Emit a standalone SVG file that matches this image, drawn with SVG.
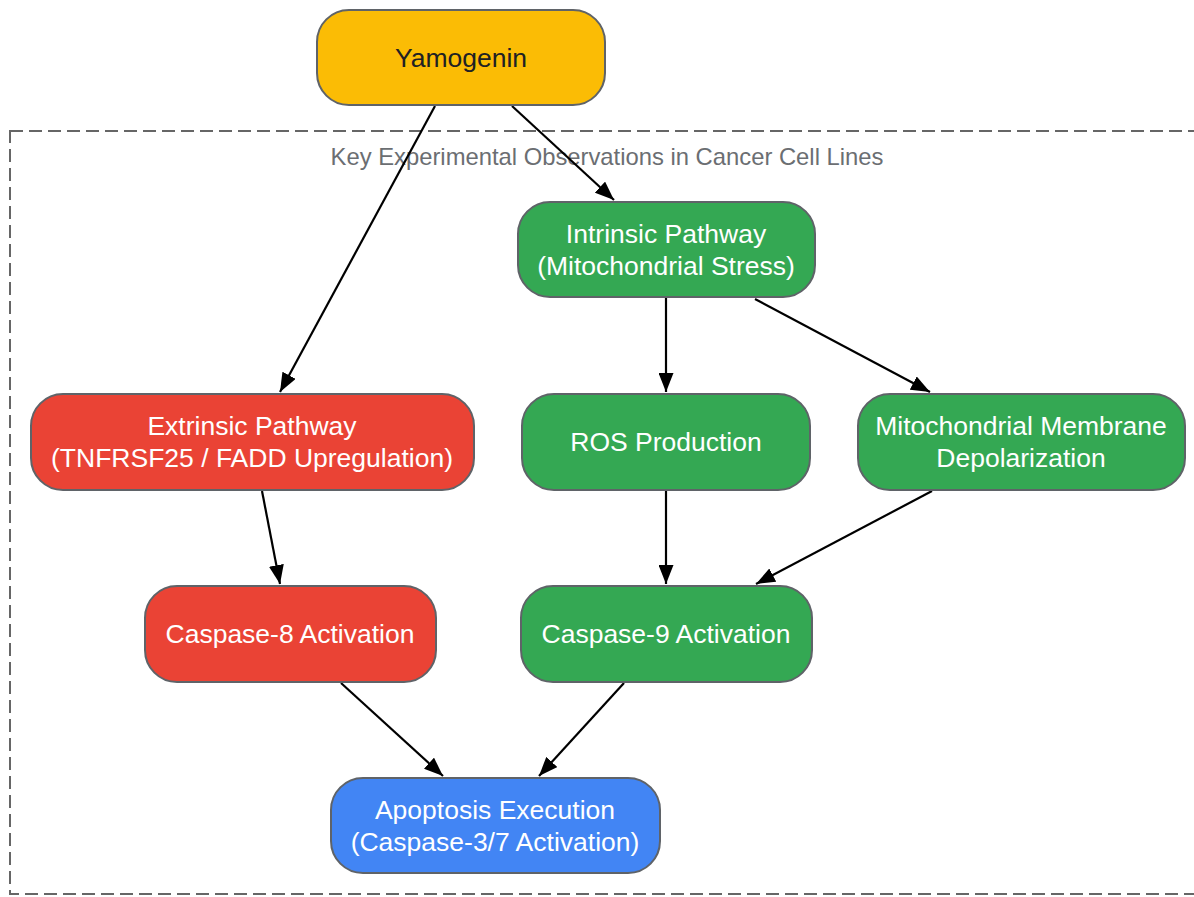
<svg xmlns="http://www.w3.org/2000/svg" width="1194" height="897" viewBox="0 0 1194 897">
<defs>
<marker id="arr" viewBox="0 0 10 10" refX="10" refY="5" markerWidth="19" markerHeight="15" markerUnits="userSpaceOnUse" orient="auto" preserveAspectRatio="none">
<path d="M0,0 L10,5 L0,10 z" fill="#000"/>
</marker>
<style>
.n{stroke:#5f6368;stroke-width:2}
.t{font-family:"Liberation Sans",Arial,sans-serif;font-size:26.5px;text-anchor:middle;fill:#fff}
.e{stroke:#000;stroke-width:2.2;fill:none;marker-end:url(#arr)}
</style>
</defs>
<rect x="10" y="131" width="1200" height="763" fill="none" stroke="#666" stroke-width="2" stroke-dasharray="13,6"/>
<text x="607" y="165" font-family="Liberation Sans,Arial,sans-serif" font-size="23.8" fill="#6b6e72" text-anchor="middle">Key Experimental Observations in Cancer Cell Lines</text>
<g id="connectors">
<path class="e" d="M435,106 L280,392"/>
<path class="e" d="M512,106 L614,200"/>
<path class="e" d="M666,298 L666,392"/>
<path class="e" d="M755,299 L930,392"/>
<path class="e" d="M262,491 L280,584"/>
<path class="e" d="M666,491 L666,584"/>
<path class="e" d="M932,491 L756,584"/>
<path class="e" d="M341,683 L443,776"/>
<path class="e" d="M624,683 L539,776"/>
</g>
<g id="yamogenin"><rect class="n" x="317" y="10" width="288" height="95" rx="32" fill="#FBBC05"/><text class="t" x="461" y="67" style="fill:#202124">Yamogenin</text></g>
<g id="intrinsic"><rect class="n" x="518" y="202" width="297" height="95" rx="32" fill="#34A853"/><text class="t" x="666" y="243">Intrinsic Pathway</text><text class="t" x="666" y="275">(Mitochondrial Stress)</text></g>
<g id="extrinsic"><rect class="n" x="31" y="394" width="443" height="96" rx="32" fill="#EA4335"/><text class="t" x="252" y="435">Extrinsic Pathway</text><text class="t" x="252" y="467">(TNFRSF25 / FADD Upregulation)</text></g>
<g id="ros"><rect class="n" x="522" y="394" width="288" height="96" rx="32" fill="#34A853"/><text class="t" x="666" y="451">ROS Production</text></g>
<g id="mito"><rect class="n" x="858" y="394" width="327" height="96" rx="32" fill="#34A853"/><text class="t" x="1021" y="435">Mitochondrial Membrane</text><text class="t" x="1021" y="467">Depolarization</text></g>
<g id="casp8"><rect class="n" x="145" y="586" width="291" height="96" rx="32" fill="#EA4335"/><text class="t" x="290" y="643">Caspase-8 Activation</text></g>
<g id="casp9"><rect class="n" x="521" y="586" width="291" height="96" rx="32" fill="#34A853"/><text class="t" x="666" y="643">Caspase-9 Activation</text></g>
<g id="apoptosis"><rect class="n" x="331" y="778" width="329" height="95" rx="32" fill="#4285F4"/><text class="t" x="495" y="819">Apoptosis Execution</text><text class="t" x="495" y="851">(Caspase-3/7 Activation)</text></g>
</svg>
